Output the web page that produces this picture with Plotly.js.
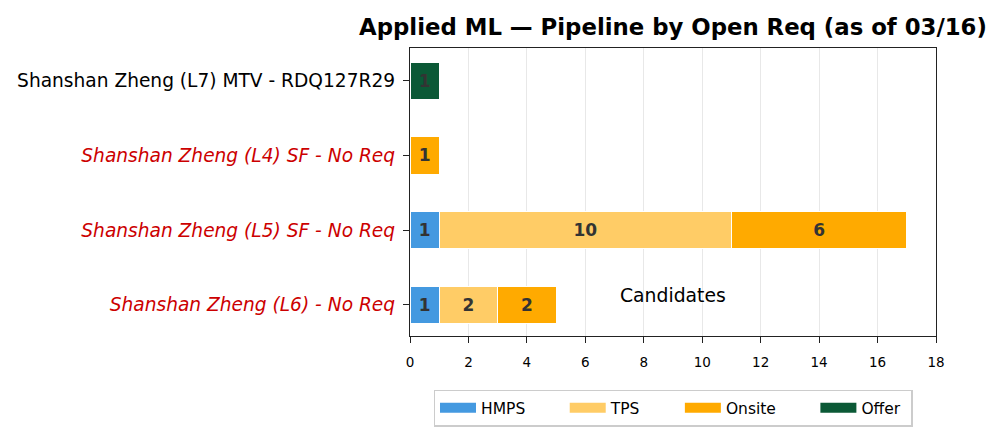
<!DOCTYPE html>
<html><head><meta charset="utf-8">
<script src="https://cdn.plot.ly/plotly-3.0.1.min.js"></script>
<style>body{margin:0;padding:0;background:#fff}#chart{width:1003px;height:434px}</style>
</head><body><div id="chart"></div>
<script>
const categories = ["Shanshan Zheng (L6) - No Req", "Shanshan Zheng (L5) SF - No Req", "Shanshan Zheng (L4) SF - No Req", "Shanshan Zheng (L7) MTV - RDQ127R29"];
const hasReq = [false, false, false, true];
const hmps = [1, 1, 0, 0];
const tps = [2, 10, 0, 0];
const onsite = [2, 6, 1, 0];
const offer = [0, 0, 0, 1];
const seriesNames = ["HMPS", "TPS", "Onsite", "Offer"];
const seriesColors = ["#4499E0", "#FFCC66", "#FFAA00", "#0B5936"];
const xTicks = [0, 2, 4, 6, 8, 10, 12, 14, 16, 18];
const xTitle = "Candidates";

const yIdx = categories.map((_, i) => i);
const tickText = categories.map((c, i) => hasReq[i] ? c : "<span style='color:#CC0000'><i>" + c + "</i></span>");

const bars = [hmps, tps, onsite, offer].map((vals, k) => ({
  type: 'bar', orientation: 'h', name: seriesNames[k], showlegend: false,
  y: yIdx, x: vals, width: 0.5,
  marker: {color: seriesColors[k], line: {color: '#ffffff', width: 1}},
  text: vals.map(v => v > 0 ? String(v) : ''),
  textposition: 'inside', insidetextanchor: 'middle', textangle: 0,
  textfont: {family: 'DejaVu Sans', size: 17, color: '#333333', weight: 'bold'},
  hoverinfo: 'x+name'
}));
// legend proxies (wide rectangular swatches like the reference)
const pad = '\u00a0'.repeat(7);
const padEnd = '\u00a0'.repeat(1);
const legendProxies = seriesNames.map((n, k) => ({
  type: 'scatter', mode: 'lines', x: [null], y: [null],
  name: k < seriesNames.length - 1 ? n + pad : n + padEnd,
  line: {color: seriesColors[k], width: 10}, hoverinfo: 'skip'
}));

const layout = {
  width: 1003, height: 434,
  margin: {l: 410, r: 67, t: 48, b: 98, autoexpand: false},
  paper_bgcolor: '#fff', plot_bgcolor: '#fff',
  barmode: 'stack',
  font: {family: 'DejaVu Sans', color: '#000'},
  title: {text: '<b>Applied ML — Pipeline by Open Req (as of 03/16)</b>', font: {size: 22.8, family: 'DejaVu Sans', color: '#000'},
    x: 0.5, xref: 'paper', xanchor: 'center', y: 0.938, yref: 'container', yanchor: 'middle'},
  xaxis: {range: [0, 18], tickvals: xTicks, ticks: 'outside', ticklen: 6, tickcolor: '#222', tickfont: {size: 13.5},
    ticklabelstandoff: 8,
    showgrid: true, gridcolor: '#e8e8e8', gridwidth: 1, zeroline: false,
    showline: true, linecolor: '#222', linewidth: 1.2, mirror: true},
  yaxis: {range: [-0.42, 3.44], tickvals: yIdx, ticktext: tickText, ticks: 'outside', ticklen: 6, tickcolor: '#222',
    tickfont: {size: 18.6}, ticklabelstandoff: 4, showgrid: false, zeroline: false,
    showline: true, linecolor: '#222', linewidth: 1.2, mirror: true},
  annotations: [{text: xTitle, xref: 'paper', yref: 'container', x: 0.5, y: 1 - 381 / 434,
    xanchor: 'center', yanchor: 'middle', showarrow: false, font: {size: 18.8, color: '#000'}}],
  showlegend: true,
  legend: {orientation: 'h', x: 0.5, xanchor: 'center', xref: 'paper', y: 0.102, yref: 'container', yanchor: 'top', itemwidth: 36,
    bgcolor: '#ffffff', bordercolor: '#cccccc', borderwidth: 1.5, font: {size: 15.5}, traceorder: 'normal'},
  uniformtext: {mode: false}
};
Plotly.newPlot('chart', bars.concat(legendProxies), layout, {displayModeBar: false, staticPlot: true});
</script></body></html>
